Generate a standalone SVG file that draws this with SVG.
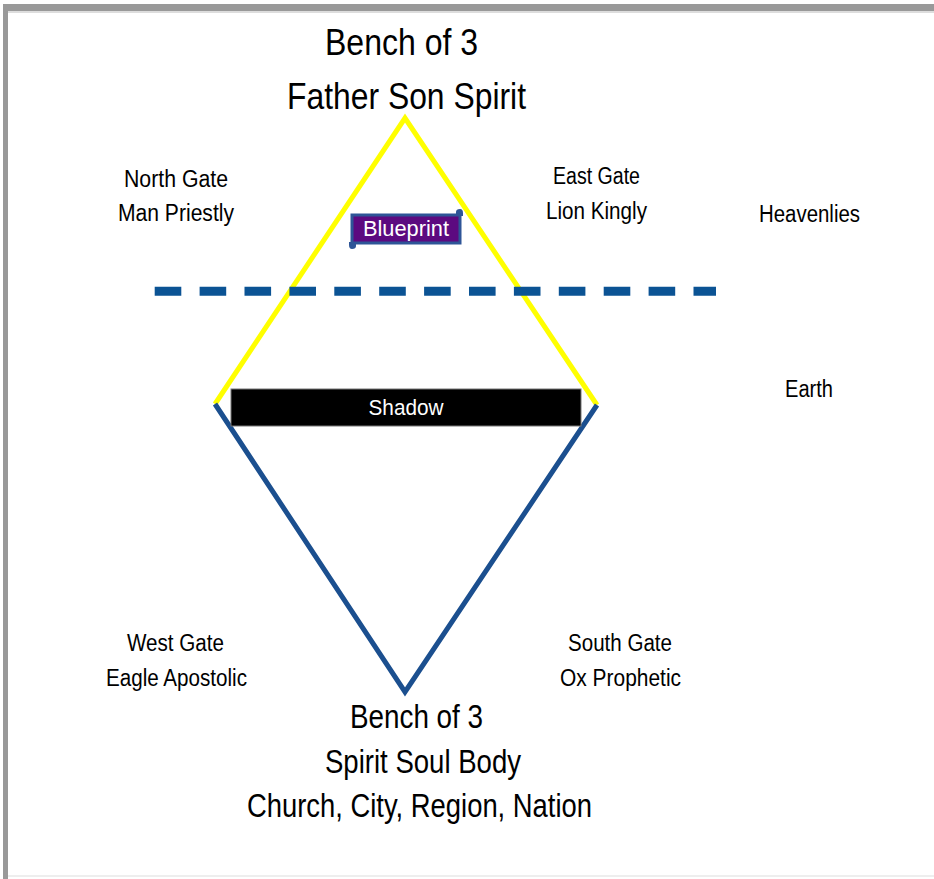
<svg xmlns="http://www.w3.org/2000/svg" width="934" height="879" viewBox="0 0 934 879">
<style>
.t{font-family:"Liberation Sans",Arial,sans-serif;fill:#000;text-anchor:middle}
.big{font-size:37px}
.mid{font-size:34px}
.sm{font-size:23px}
.lbl{font-family:"Liberation Sans",Arial,sans-serif;fill:#fff;text-anchor:middle;font-size:22px}
</style>
<rect x="0" y="0" width="934" height="879" fill="#fff"/>
<g id="frame">
<rect x="3" y="4" width="931" height="7" fill="#999"/>
<rect x="3" y="4" width="5" height="875" fill="#999"/>
<rect x="8" y="11" width="926" height="2" fill="#ddd"/>
<rect x="8" y="875" width="926" height="2" fill="#eee"/>
</g>
<g id="connectors" fill="none" stroke-linecap="butt" stroke-linejoin="miter">
<path d="M215,404 L405,118 L597,405" stroke="#ffff00" stroke-width="5"/>
<path d="M215,404 L405,692 L597,405" stroke="#1b4f8f" stroke-width="5"/>
<line x1="154.7" y1="291.3" x2="716" y2="291.3" stroke="#0b5394" stroke-width="9" stroke-dasharray="26.6 18.3"/>
</g>
<g id="top-title">
<text class="t big" x="401.5" y="55" textLength="153" lengthAdjust="spacingAndGlyphs">Bench of 3</text>
<text class="t big" x="406.5" y="109" textLength="239" lengthAdjust="spacingAndGlyphs">Father Son Spirit</text>
</g>
<g id="north-gate">
<text class="t sm" x="176" y="187" textLength="104" lengthAdjust="spacingAndGlyphs">North Gate</text>
<text class="t sm" x="176" y="221" textLength="116" lengthAdjust="spacingAndGlyphs">Man Priestly</text>
</g>
<g id="east-gate">
<text class="t sm" x="596.5" y="184" textLength="87" lengthAdjust="spacingAndGlyphs">East Gate</text>
<text class="t sm" x="596.5" y="219" textLength="101" lengthAdjust="spacingAndGlyphs">Lion Kingly</text>
</g>
<g id="heavenlies">
<text class="t sm" x="809.5" y="222" textLength="101" lengthAdjust="spacingAndGlyphs">Heavenlies</text>
</g>
<g id="earth">
<text class="t sm" x="809" y="397" textLength="48" lengthAdjust="spacingAndGlyphs">Earth</text>
</g>
<g id="blueprint">
<path d="M456,216 L456,212 Q456,209 460,209 Q463,209 463,213 L463,216 Z" fill="#2e5597"/>
<path d="M356,242 L356,246 Q356,249 352,249 Q349,249 349,245 L349,242 Z" fill="#2e5597"/>
<rect x="352" y="215" width="108" height="28" fill="#5c0a80" stroke="#2e5597" stroke-width="3"/>
<text class="lbl" x="406" y="236" fill="#f3eefa" textLength="86" lengthAdjust="spacingAndGlyphs">Blueprint</text>
</g>
<g id="shadow">
<rect x="231" y="389" width="350" height="37" fill="#000" stroke="#777" stroke-width="1"/>
<text class="lbl" x="406" y="415" textLength="75" lengthAdjust="spacingAndGlyphs">Shadow</text>
</g>
<g id="west-gate">
<text class="t sm" x="175.5" y="651" textLength="97" lengthAdjust="spacingAndGlyphs">West Gate</text>
<text class="t sm" x="176.5" y="686" textLength="141" lengthAdjust="spacingAndGlyphs">Eagle Apostolic</text>
</g>
<g id="south-gate">
<text class="t sm" x="620" y="651" textLength="104" lengthAdjust="spacingAndGlyphs">South Gate</text>
<text class="t sm" x="620.5" y="686" textLength="121" lengthAdjust="spacingAndGlyphs">Ox Prophetic</text>
</g>
<g id="bottom-title">
<text class="t mid" x="416.5" y="728" textLength="133" lengthAdjust="spacingAndGlyphs">Bench of 3</text>
<text class="t mid" x="423" y="773" textLength="196" lengthAdjust="spacingAndGlyphs">Spirit Soul Body</text>
<text class="t mid" x="419.5" y="817" textLength="345" lengthAdjust="spacingAndGlyphs">Church, City, Region, Nation</text>
</g>
</svg>
